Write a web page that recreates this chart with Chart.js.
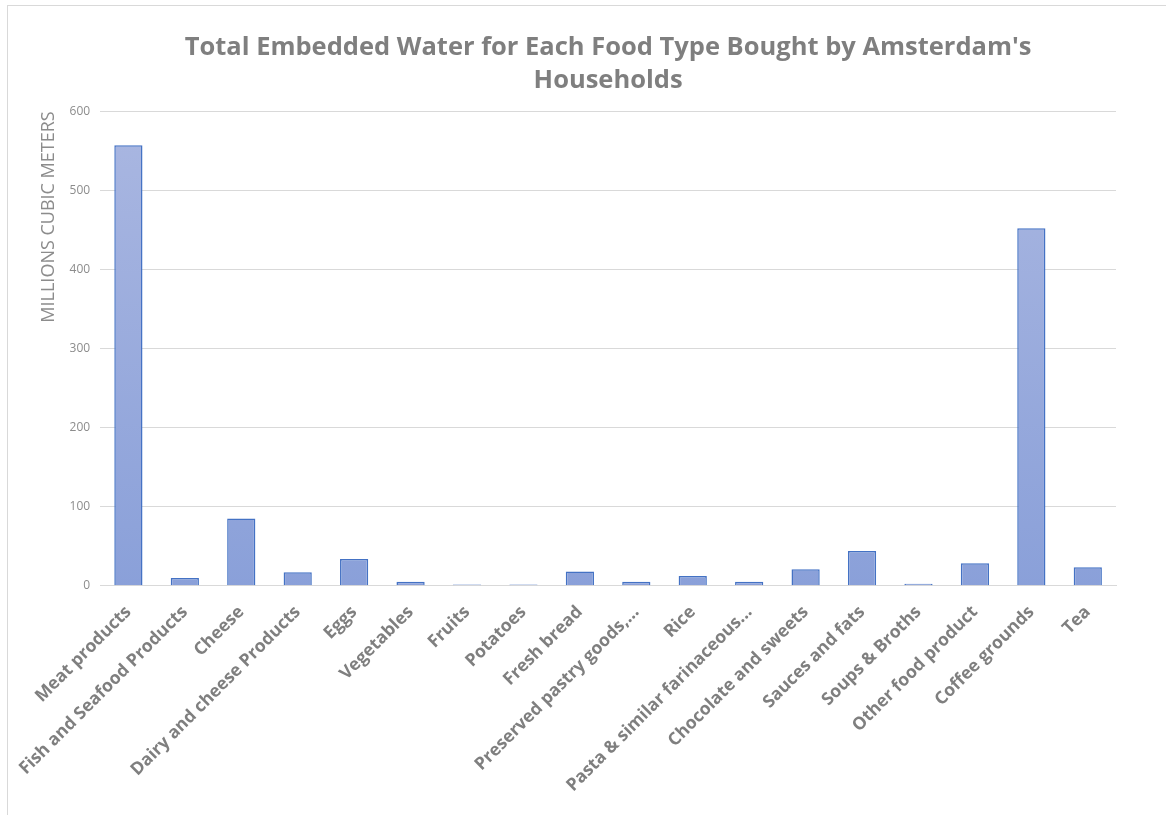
<!DOCTYPE html>
<html>
<head>
<meta charset="utf-8">
<script src="https://cdn.jsdelivr.net/npm/chart.js@4.4.1/dist/chart.umd.min.js"></script>
<style>
    body { margin: 0; background: #fff; }
    #frame { position: absolute; left: 7px; top: 5px; width: 1170px; height: 820px; border: 1px solid #d9d9d9; }
    #wrap { position: absolute; left: 0; top: 0; width: 1166px; height: 815px; }
</style>
</head>
<body>
<div id="frame"></div>
<div id="wrap"><canvas id="water_chart"></canvas></div>
<script>
// food categories as they appear on the x axis
let food_types = ['Meat products', 'Fish and Seafood Products', 'Cheese', 'Dairy and cheese Products', 'Eggs',
    'Vegetables', 'Fruits', 'Potatoes', 'Fresh bread', 'Preserved pastry goods,...', 'Rice',
    'Pasta & similar farinaceous...', 'Chocolate and sweets', 'Sauces and fats', 'Soups & Broths',
    'Other food product', 'Coffee grounds', 'Tea'];

// millions of cubic metres
let water_values = [557, 10, 85, 17, 34, 5, 1.5, 1.5, 18, 5, 12.5, 5, 21, 44, 2.5, 28.5, 452, 23.5];

let y_ticks = [0, 100, 200, 300, 400, 500, 600];

let title_lines = ["Total Embedded Water for Each Food Type Bought by Amsterdam's", 'Households'];

let ctx = document.getElementById('water_chart');

function barGradient(context) {
    let chart = context.chart;
    let area = chart.chartArea;
    if (!area) {
        return '#9aabdd';
    }
    let g = chart.ctx.createLinearGradient(0, area.top, 0, area.bottom);
    g.addColorStop(0, '#aab7e1');
    g.addColorStop(1, '#8aa0d9');
    return g;
}

let water_chart = new Chart(ctx, {
    type: 'bar',
    data: {
        labels: food_types,
        datasets: [
            {
                label: 'Embedded water',
                data: water_values,
                backgroundColor: barGradient,
                borderColor: '#4472c4',
                borderWidth: 1.5,
                barPercentage: 0.5,
                categoryPercentage: 1
            }
        ]
    },
    options: {
        responsive: true,
        maintainAspectRatio: false,
        animation: false,
        layout: {
            padding: { top: 31, right: 50, left: 34, bottom: 11 }
        },
        scales: {
            y: {
                min: 0,
                max: 600,
                afterBuildTicks: function(axis) {
                    axis.ticks = y_ticks.map(function(v) { return { value: v }; });
                },
                grid: {
                    color: '#d9d9d9',
                    drawTicks: false
                },
                border: { display: false },
                ticks: {
                    color: '#8c8c8c',
                    padding: 10,
                    font: { family: 'Open Sans', size: 12 }
                },
                title: {
                    display: true,
                    text: 'MILLIONS CUBIC METERS',
                    align: 'end',
                    color: '#8c8c8c',
                    padding: { bottom: 0 },
                    font: { family: 'Open Sans', size: 18 }
                }
            },
            x: {
                grid: { display: false },
                border: { color: '#d9d9d9', width: 1 },
                ticks: {
                    color: '#7f7f7f',
                    minRotation: 45,
                    maxRotation: 45,
                    autoSkip: false,
                    padding: 8,
                    font: { family: 'Open Sans', size: 17.5, weight: 'bold' }
                }
            }
        },
        plugins: {
            legend: { display: false },
            tooltip: { enabled: false },
            title: {
                display: true,
                fullSize: false,
                text: title_lines,
                color: '#7f7f7f',
                padding: { top: 0, bottom: 14 },
                font: { family: 'Open Sans', size: 25.5, weight: 'bold', lineHeight: 1.3 }
            }
        }
    }
});
</script>
</body>
</html>
